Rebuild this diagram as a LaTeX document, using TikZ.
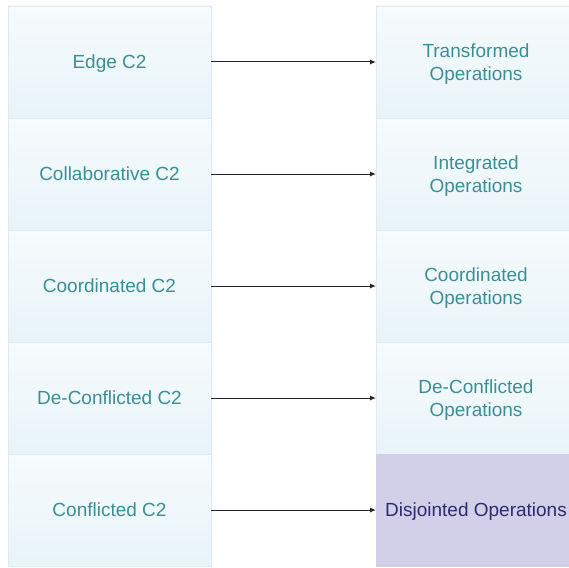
\documentclass[tikz,border=0pt]{standalone}
\usepackage{fontspec}
\setmainfont{Liberation Sans}
\usetikzlibrary{positioning,arrows.meta}
\definecolor{tealtext}{HTML}{3A8F97}
\definecolor{boxline}{HTML}{D9ECF1}
\definecolor{boxtop}{HTML}{F6FBFD}
\definecolor{boxbot}{HTML}{E8F4F8}
\definecolor{disjfill}{HTML}{D2D0E8}
\definecolor{disjtext}{HTML}{2B2B72}

\begin{document}
\begin{tikzpicture}[x=1pt,y=-1pt,
  level/.style={draw=boxline,line width=0.8pt,top color=boxtop,bottom color=boxbot,
    minimum width=203pt,minimum height=112pt,inner sep=0pt,outer sep=0pt,text depth=0pt,
    text=tealtext,align=center,font=\fontsize{19}{23}\selectfont},
  opbox/.style={level,minimum width=200pt},
  link/.style={-{Latex[length=6pt,width=5pt]},line width=1pt,black!85}]
\useasboundingbox (0,0) rectangle (569,567);
% left column, C2 approaches
\node[level,anchor=north west] (edge) at (8,6) {Edge C2};
\node[level,below=0pt of edge] (collab) {Collaborative C2};
\node[level,below=0pt of collab] (coord) {Coordinated C2};
\node[level,below=0pt of coord] (decon) {De-Conflicted C2};
\node[level,below=0pt of decon] (confl) {Conflicted C2};
% right column, operations
\node[opbox,anchor=north west] (trans) at (376,6) {Transformed\\Operations};
\node[opbox,below=0pt of trans] (integ) {Integrated\\Operations};
\node[opbox,below=0pt of integ] (coordop) {Coordinated\\Operations};
\node[opbox,below=0pt of coordop] (deconop) {De-Conflicted\\Operations};
\node[opbox,below=0pt of deconop,top color=disjfill,bottom color=disjfill,draw=disjfill,text=disjtext] (disj) {Disjointed Operations};
% arrows
\draw[link] (edge) -- (trans);
\draw[link] (collab) -- (integ);
\draw[link] (coord) -- (coordop);
\draw[link] (decon) -- (deconop);
\draw[link] (confl) -- (disj);
\end{tikzpicture}
\end{document}
